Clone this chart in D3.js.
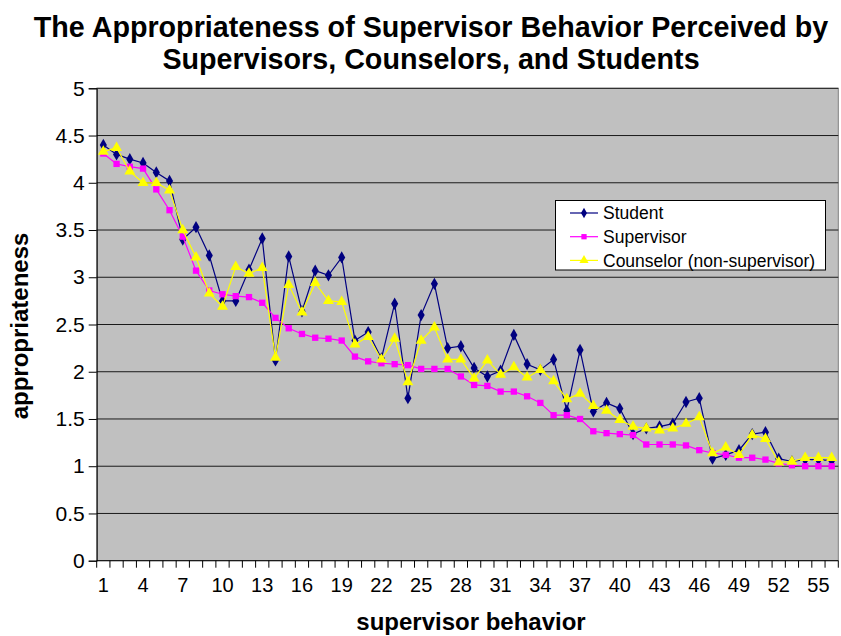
<!DOCTYPE html>
<html><head><meta charset="utf-8">
<script src="https://cdn.jsdelivr.net/npm/d3@7"></script>
<style>body{margin:0;background:#fff}svg{display:block;font-family:"Liberation Sans",Arial,sans-serif}</style>
</head><body>
<svg id="c" width="841" height="636"></svg>
<script>
const categories = ["1","2","3","4","5","6","7","8","9","10","11","12","13","14","15","16","17","18","19","20","21","22","23","24","25","26","27","28","29","30","31","32","33","34","35","36","37","38","39","40","41","42","43","44","45","46","47","48","49","50","51","52","53","54","55","56"];
const student = [4.40,4.30,4.25,4.21,4.11,4.02,3.40,3.53,3.23,2.75,2.75,3.08,3.41,2.12,3.22,2.64,3.07,3.02,3.21,2.33,2.42,2.14,2.72,1.72,2.60,2.93,2.25,2.27,2.04,1.95,2.01,2.39,2.08,2.02,2.13,1.59,2.23,1.58,1.67,1.61,1.34,1.40,1.42,1.45,1.68,1.72,1.08,1.12,1.17,1.34,1.36,1.08,1.05,1.07,1.07,1.06];
const supervisor = [4.31,4.20,4.17,4.15,3.93,3.71,3.43,3.07,2.86,2.82,2.80,2.79,2.73,2.57,2.46,2.40,2.36,2.35,2.33,2.16,2.11,2.09,2.08,2.07,2.03,2.03,2.03,1.95,1.86,1.85,1.79,1.79,1.74,1.67,1.54,1.54,1.50,1.37,1.35,1.34,1.33,1.23,1.23,1.23,1.22,1.17,1.14,1.12,1.09,1.09,1.07,1.03,1.01,1.00,1.00,1.00];
const counselor = [4.33,4.37,4.12,4.00,4.00,3.92,3.50,3.21,2.83,2.69,3.11,3.04,3.10,2.15,2.92,2.63,2.94,2.75,2.74,2.29,2.37,2.13,2.35,1.89,2.33,2.47,2.13,2.13,1.93,2.12,1.97,2.05,1.94,2.02,1.90,1.71,1.77,1.64,1.59,1.49,1.42,1.40,1.38,1.40,1.45,1.52,1.14,1.20,1.12,1.33,1.29,1.04,1.05,1.09,1.09,1.09];
const xTickLabels = ["1","4","7","10","13","16","19","22","25","28","31","34","37","40","43","46","49","52","55"];
const yTicks = [0,0.5,1,1.5,2,2.5,3,3.5,4,4.5,5];
const seriesNames = ["Student","Supervisor","Counselor (non-supervisor)"];
const titleLines = ["The Appropriateness of Supervisor Behavior Perceived by","Supervisors, Counselors, and Students"];

const svg = d3.select("#c");
const L = 96.7, R = 838.3, T = 88.3, B = 560.7;
const x = d3.scaleBand().domain(categories).range([L, R]);
const y = d3.scaleLinear().domain([0, 5]).range([B, T]);
const cx = c => x(c) + x.bandwidth() / 2;

// plot background
svg.append("rect").attr("x", L).attr("y", T).attr("width", R - L).attr("height", B - T)
  .attr("fill", "#c0c0c0").attr("stroke", "#808080").attr("stroke-width", 1);

// gridlines
svg.append("g").selectAll("line").data(yTicks.filter(d => d > 0)).join("line")
  .attr("x1", L).attr("x2", R).attr("y1", d => y(d)).attr("y2", d => y(d))
  .attr("stroke", "#1a1a1a").attr("stroke-width", 1);

// y axis
const yAxis = d3.axisLeft(y).tickValues(yTicks).tickSize(8).tickPadding(4).tickFormat(d3.format("~g"));
const gy = svg.append("g").attr("transform", `translate(${L},0)`).call(yAxis);
gy.select(".domain").attr("stroke", "#000");
gy.selectAll("text").attr("font-size", 21).attr("fill", "#000").attr("font-family", "Liberation Sans, Arial, sans-serif");

// x axis: ticks at category boundaries
const gx = svg.append("g");
gx.append("line").attr("x1", L).attr("x2", R).attr("y1", B).attr("y2", B).attr("stroke", "#000");
gx.selectAll("line.t").data(categories.concat(["end"])).join("line").attr("class", "t")
  .attr("x1", (d, i) => i < categories.length ? x(d) : R)
  .attr("x2", (d, i) => i < categories.length ? x(d) : R)
  .attr("y1", B).attr("y2", B + 7).attr("stroke", "#000");
gx.selectAll("text").data(xTickLabels).join("text")
  .attr("x", d => cx(d)).attr("y", 592).attr("text-anchor", "middle")
  .attr("font-size", 20).text(d => d);

// series
const line = d3.line().x(d => cx(d.c)).y(d => y(d.v));
const toPts = arr => arr.map((v, i) => ({c: categories[i], v}));
const colors = ["#000080", "#ff00ff", "#ffff00"];
const symbols = [d3.symbolDiamond, d3.symbolSquare, d3.symbolTriangle];
const sizes = [44, 40, 52];
[student, supervisor, counselor].forEach((arr, k) => {
  const pts = toPts(arr);
  const g = svg.append("g");
  g.append("path").datum(pts).attr("d", line).attr("fill", "none")
    .attr("stroke", colors[k]).attr("stroke-width", 1.2);
  g.selectAll("path.m").data(pts).join("path").attr("class", "m")
    .attr("transform", d => `translate(${cx(d.c)},${y(d.v)})`)
    .attr("d", d3.symbol(symbols[k], sizes[k])).attr("fill", colors[k]);
});

// legend
const lg = svg.append("g");
lg.append("rect").attr("x", 555.5).attr("y", 200.5).attr("width", 270).attr("height", 69.5)
  .attr("fill", "#fff").attr("stroke", "#000");
seriesNames.forEach((n, k) => {
  const yy = 213 + k * 23.7;
  lg.append("line").attr("x1", 570).attr("x2", 598).attr("y1", yy).attr("y2", yy).attr("stroke", colors[k]).attr("stroke-width", 1.2);
  lg.append("path").attr("transform", `translate(584,${yy})`).attr("d", d3.symbol(symbols[k], sizes[k] * 0.7)).attr("fill", colors[k]);
  lg.append("text").attr("x", 603).attr("y", yy).attr("dy", "0.35em").attr("font-size", 17.5).text(n);
});

// titles
svg.append("g").selectAll("text").data(titleLines).join("text")
  .attr("x", 431).attr("y", (d, i) => 37 + i * 32).attr("text-anchor", "middle")
  .attr("font-size", 28.7).attr("font-weight", "bold").text(d => d);
svg.append("text").attr("x", 471).attr("y", 630).attr("text-anchor", "middle")
  .attr("font-size", 24).attr("font-weight", "bold").text("supervisor behavior");
svg.append("text").attr("transform", "translate(28,326) rotate(-90)").attr("text-anchor", "middle")
  .attr("font-size", 24).attr("font-weight", "bold").text("appropriateness");
</script>
</body></html>
